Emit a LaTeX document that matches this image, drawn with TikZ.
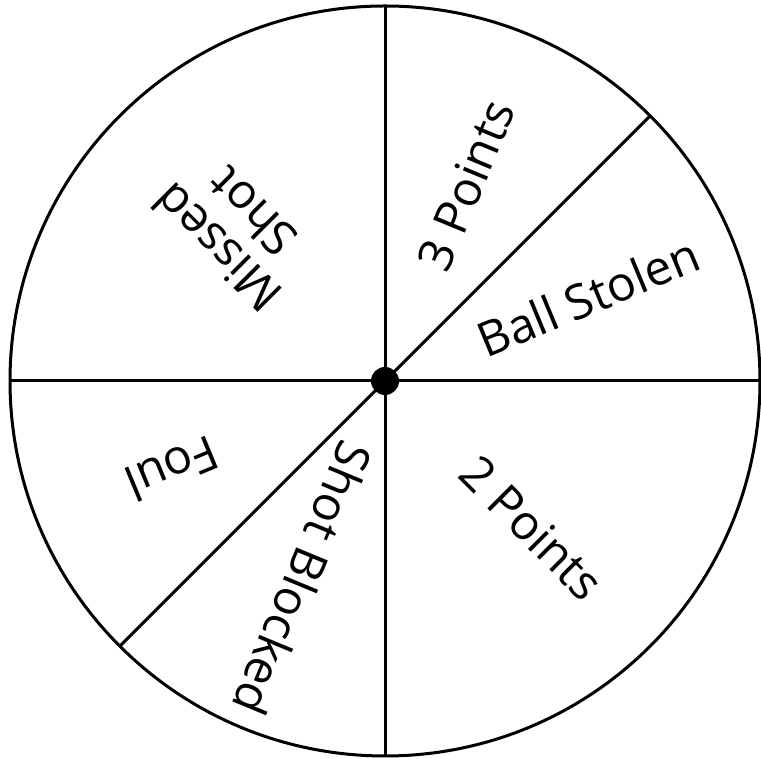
\documentclass[tikz,border=0pt]{standalone}
\usepackage{fontspec}
\setmainfont{Open Sans}
\usepackage{tikz}
\usetikzlibrary{positioning,calc}

\begin{document}
\begin{tikzpicture}[
		x=1pt, y=1pt,
		spoke/.style={line width=3pt, black},
		label/.style={
			font=\fontsize{48}{50}\selectfont,
			align=center, inner sep=0pt
		}
		]
		\useasboundingbox (0,0) rectangle (761,759);
		
		% center of the spinner
		\coordinate (hub) at (385,378);
		
		% rim
		\draw[spoke] (hub) circle (375);
		
		% ends of the spokes on the rim
		\coordinate (east)  at ($(hub)+(0:375)$);
		\coordinate (west)  at ($(hub)+(180:375)$);
		\coordinate (north) at ($(hub)+(90:375)$);
		\coordinate (south) at ($(hub)+(270:375)$);
		\coordinate (ne)    at ($(hub)+(45:375)$);
		\coordinate (sw)    at ($(hub)+(225:375)$);
		
		% spokes
		\draw[spoke] (west)  -- (east);
		\draw[spoke] (north) -- (south);
		\draw[spoke] (sw)    -- (ne);
		
		% hub dot
		\fill (hub) circle (14);
		
		% sector labels
		\node[label, rotate=22.5]  (stolen)  at ($(hub)+(22.5:220)$)  {Ball Stolen};
		\node[label, rotate=67.5]  (three)   at ($(hub)+(67.5:212)$)  {3 Points};
		\node[label, rotate=135]   (missed)  at ($(hub)+(135:213)$)   {Missed\\Shot};
		\node[label, rotate=202.5] (foul)    at ($(hub)+(202.5:230)$) {Foul};
		\node[label, rotate=247.5] (blocked) at ($(hub)+(247.5:214)$) {Shot Blocked};
		\node[label, rotate=-45]   (two)     at ($(hub)+(-45:208)$)   {2 Points};
	\end{tikzpicture}
\end{document}
